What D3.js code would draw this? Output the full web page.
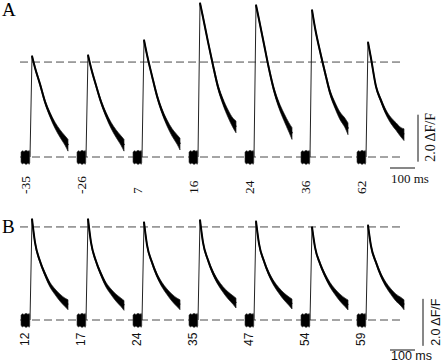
<!DOCTYPE html>
<html><head><meta charset="utf-8">
<script src="https://cdn.jsdelivr.net/npm/d3@7/dist/d3.min.js"></script>
<style>html,body{margin:0;padding:0;background:#fff;}svg{display:block;}</style>
</head><body>
<svg id="c" width="442" height="363"></svg>
<script>
// ---- data (ΔF/F, ms) ----
const stimTimes = [0, 224, 448, 672, 896, 1120, 1344];          // onset of each transient (ms)
const decayTimes = [8, 20, 40, 60, 80, 100, 120, 140, 152];     // ms after onset
const baseTimes = [-36, -31, -24, -16, -8, -3, -1];             // pre-stimulus baseline
const baseNoise = [0.22, 0.3, 0.26, 0.32, 0.27, 0.31, 0.24];
const noiseA = [0.03, 0.05, 0.06, 0.08, 0.10, 0.13, 0.16, 0.20, 0.25];
const noiseB = [0.03, 0.05, 0.06, 0.08, 0.10, 0.12, 0.15, 0.18, 0.21];
const labelsA = ["-35", "-26", "7", "16", "24", "36", "62"];
const labelsB = ["12", "17", "24", "35", "47", "54", "59"];
const tracesA = [
  [4.30, 3.80, 3.10, 2.35, 1.80, 1.35, 1.00, 0.70, 0.50],
  [4.34, 3.80, 3.05, 2.35, 1.80, 1.35, 1.00, 0.70, 0.50],
  [4.98, 4.35, 3.45, 2.60, 1.95, 1.45, 1.05, 0.75, 0.55],
  [6.55, 5.95, 4.90, 3.90, 2.98, 2.35, 1.85, 1.45, 1.28],
  [6.47, 5.85, 4.80, 3.75, 2.85, 2.20, 1.70, 1.25, 1.00],
  [6.26, 5.50, 4.50, 3.60, 2.75, 2.20, 1.75, 1.45, 1.20],
  [4.89, 4.20, 3.00, 2.40, 1.90, 1.55, 1.30, 1.05, 0.95]
];
const tracesB = [
  [4.30, 3.30, 2.50, 1.95, 1.50, 1.20, 0.95, 0.75, 0.65],
  [4.30, 3.30, 2.50, 1.95, 1.50, 1.20, 0.95, 0.75, 0.62],
  [4.17, 3.20, 2.45, 1.90, 1.50, 1.20, 0.95, 0.75, 0.65],
  [4.26, 3.30, 2.55, 2.00, 1.60, 1.30, 1.05, 0.85, 0.72],
  [4.21, 3.25, 2.50, 1.95, 1.55, 1.25, 1.00, 0.80, 0.68],
  [3.96, 3.10, 2.40, 1.90, 1.50, 1.20, 0.95, 0.75, 0.64],
  [4.04, 3.15, 2.45, 1.90, 1.50, 1.20, 0.95, 0.78, 0.65]
];
const refLinesA = [0, 4.04];
const refLinesB = [0, 3.96];
const scaleBarMs = 100, scaleBarDF = 2.0;

// ---- drawing ----
const svg = d3.select("#c");
const x = d3.scaleLinear().domain([0, 1000]).range([30, 280]);
const yA = d3.scaleLinear().domain([0, 4]).range([157, 63]);
const yB = d3.scaleLinear().domain([0, 4]).range([320, 226]);

function panel(y, traces, noise, refs, labels, opt) {
  const g = svg.append("g");
  refs.forEach(v => {
    g.append("line").attr("x1", 20).attr("x2", 404)
      .attr("y1", y(v)).attr("y2", y(v))
      .attr("stroke", "#4a4a4a").attr("stroke-width", 1)
      .attr("stroke-dasharray", "8,4");
  });
  traces.forEach((vals, i) => {
    const t0 = stimTimes[i];
    const bpts = baseTimes.map((t, k) => ({t: t0 + t, a: baseNoise[k]}));
    g.append("path").datum(bpts)
      .attr("d", d3.area().x(d => x(d.t)).y0(d => y(-d.a)).y1(d => y(d.a * 0.9)).curve(d3.curveLinear))
      .attr("fill", "#000").attr("stroke", "#333").attr("stroke-width", 0.6);
    g.append("line")
      .attr("x1", x(t0)).attr("y1", y(0))
      .attr("x2", x(t0 + decayTimes[0])).attr("y2", y(vals[0]))
      .attr("stroke", "#222").attr("stroke-width", 1);
    const pts = decayTimes.map((t, k) => ({t: t0 + t, v: vals[k], a: noise[k]}));
    g.append("path").datum(pts)
      .attr("d", d3.area().x(d => x(d.t)).y0(d => y(d.v - d.a)).y1(d => y(d.v + d.a)).curve(d3.curveMonotoneX))
      .attr("fill", "#000").attr("stroke", "#222").attr("stroke-width", 0.7);
    g.append("path").datum(pts)
      .attr("d", d3.line().x(d => x(d.t)).y(d => y(d.v)).curve(d3.curveMonotoneX))
      .attr("fill", "none").attr("stroke", "#000").attr("stroke-width", 2);
    g.append("text")
      .attr("transform", `translate(${x(t0) + opt.labDx},${opt.labY}) rotate(-90)`)
      .attr("text-anchor", "start")
      .attr("font-family", opt.font).attr("font-size", opt.labSize)
      .attr("fill", "#111")
      .text(labels[i]);
  });
  g.append("text").attr("x", opt.letterX).attr("y", opt.letterY)
    .attr("font-family", "Liberation Serif, serif").attr("font-size", 19)
    .text(opt.letter);
  const xs0 = x(1440), xs1 = x(1440 + scaleBarMs);
  g.append("line").attr("x1", xs0).attr("x2", xs1).attr("y1", opt.hbarY).attr("y2", opt.hbarY)
    .attr("stroke", "#111").attr("stroke-width", 1);
  g.append("line").attr("x1", opt.vbarX).attr("x2", opt.vbarX)
    .attr("y1", y(opt.vbarV0)).attr("y2", y(opt.vbarV0 + scaleBarDF))
    .attr("stroke", "#111").attr("stroke-width", 1);
  g.append("text").attr("x", xs0 + 1).attr("y", opt.msY)
    .attr("font-family", opt.font).attr("font-size", opt.msSize).attr("fill", "#111")
    .text(scaleBarMs + " ms");
  g.append("text")
    .attr("transform", `translate(${opt.dfX},${y(opt.vbarV0)}) rotate(-90)`)
    .attr("font-family", opt.font).attr("font-size", opt.dfSize).attr("fill", "#111")
    .text(scaleBarDF.toFixed(1) + " ΔF/F");
}

panel(yA, tracesA, noiseA, refLinesA, labelsA, {
  font: "Liberation Serif, serif", labSize: 13.5, labDx: -0.5, labY: 194,
  letter: "A", letterX: 2, letterY: 16,
  hbarY: 168, vbarX: 418, vbarV0: -0.2, msY: 183, msSize: 13, dfX: 435, dfSize: 14
});
panel(yB, tracesB, noiseB, refLinesB, labelsB, {
  font: "Liberation Sans, Arial, sans-serif", labSize: 12, labDx: -1, labY: 346,
  letter: "B", letterX: 2, letterY: 233,
  hbarY: 350, vbarX: 423, vbarV0: -1.1, msY: 360, msSize: 12.5, dfX: 440, dfSize: 12.5
});
</script>
</body></html>
